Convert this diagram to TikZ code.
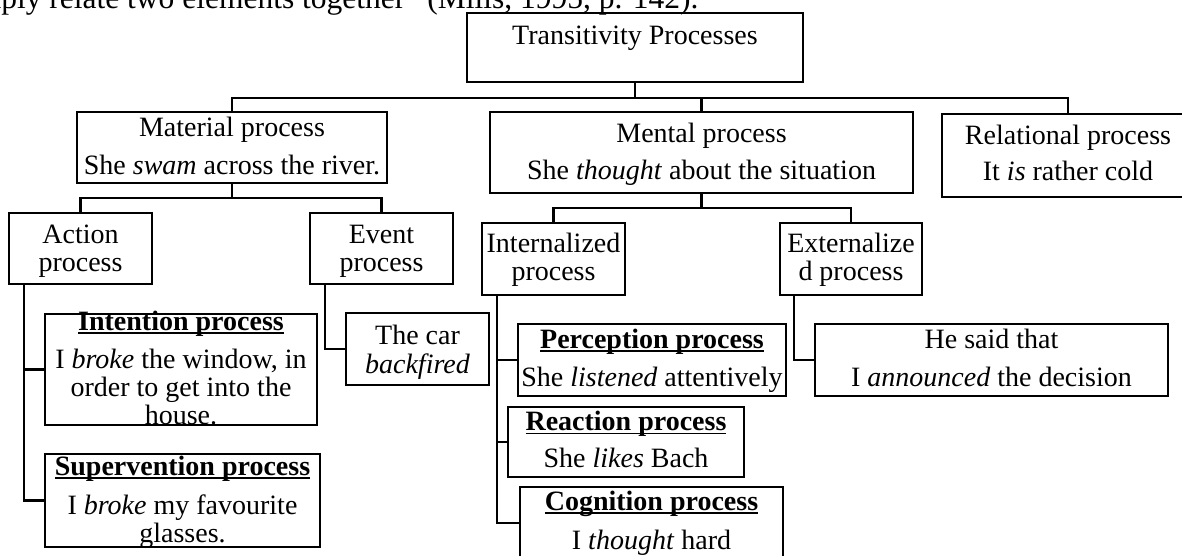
\documentclass[tikz,border=0pt]{standalone}
\usepackage{fontspec}
\setmainfont{Liberation Serif}

% box content: width, height, top pad, text
\newcommand{\boxtext}[4]{\parbox[c][#2][t]{#1}{\centering\vspace*{#3}\strut #4}}
\newcommand{\heading}[1]{\setbox0\hbox{\textbf{#1}}\rlap{\rule[-3.5pt]{\wd0}{1.4pt}}\box0}

\begin{document}
\begin{tikzpicture}[x=1pt, y=-1pt]
    \tikzstyle{procbox} = [rectangle, draw=black, line width=2.8pt, inner sep=0pt, outer sep=0pt, anchor=north west, font=\fontsize{28}{28}\selectfont]
    \tikzstyle{link} = [line width=2.8pt]

    \useasboundingbox (0,0) rectangle (1182,556);

    \node [anchor=base east, font=\fontsize{31.5}{34}\selectfont] (quote) at (702,8.5) {simply relate two elements together” (Mills, 1995, p. 142).};

    \node [procbox] (root) at (467,13) {\boxtext{336pt}{69pt}{12.4pt}{Transitivity Processes}};
    \node [procbox] (material) at (77,112) {\boxtext{310pt}{71pt}{5.4pt}{Material process\\[10pt] She \textit{swam} across the river.}};
    \node [procbox] (mental) at (490,112) {\boxtext{423pt}{81pt}{11.4pt}{Mental process\\[9pt] She \textit{thought} about the situation}};
    \node [procbox] (relational) at (942,114) {\boxtext{252pt}{83pt}{11.4pt}{Relational process\\[8pt] It \textit{is} rather cold}};

    \node [procbox] (action) at (9,213) {\boxtext{143pt}{71pt}{10.4pt}{Action\\ process}};
    \node [procbox] (event) at (310,213) {\boxtext{143pt}{71pt}{10.4pt}{Event\\ process}};
    \node [procbox] (intention) at (45,314) {\boxtext{272pt}{111pt}{-3.6pt}{\heading{Intention process}\\[10pt] I \textit{broke} the window, in\\ order to get into the\\ house.}};
    \node [procbox] (supervention) at (45,454) {\boxtext{275pt}{93pt}{1.4pt}{\heading{Supervention process}\\[10pt] I \textit{broke} my favourite\\ glasses.}};
    \node [procbox] (car) at (346,313) {\boxtext{143pt}{72pt}{11.4pt}{The car\\ \textit{backfired}}};

    \node [procbox] (internal) at (482,223) {\boxtext{143pt}{72pt}{10pt}{Internalized\\ process}};
    \node [procbox] (external) at (780,223) {\boxtext{142pt}{72pt}{10pt}{Externalize\\ d process}};
    \node [procbox] (perception) at (518,324) {\boxtext{268pt}{72pt}{4.4pt}{\heading{Perception process}\\[10pt] She \textit{listened} attentively}};
    \node [procbox] (reaction) at (508,407) {\boxtext{236pt}{70pt}{4pt}{\heading{Reaction process}\\[9pt] She \textit{likes} Bach}};
    \node [procbox] (cognition) at (520,487) {\boxtext{263pt}{72pt}{3.4pt}{\heading{Cognition process}\\[11pt] I \textit{thought} hard}};
    \node [procbox] (announce) at (815,324) {\boxtext{353pt}{72pt}{4.4pt}{He said that\\[10pt] I \textit{announced} the decision}};

    % tree links
    \draw [link] (root.south) -- ++(0,16) coordinate (rootbus) -| (material.north);
    \draw [link] (rootbus) -| (mental.north);
    \draw [link] (rootbus) -| (relational.north);
    \draw [link] (material.south) -- ++(0,15) coordinate (matbus) -| (action.north);
    \draw [link] (matbus) -| (event.north);
    \draw [link] (mental.south) -- ++(0,15) coordinate (menbus) -| (internal.north);
    \draw [link] (menbus) -| (external.north);

    % side links to the examples
    \foreach \leaf in {intention,supervention}
        \draw [link] ([xshift=15pt]action.south west) |- (\leaf.west);
    \draw [link] ([xshift=15pt]event.south west) |- (car.west);
    \foreach \leaf in {perception,reaction,cognition}
        \draw [link] ([xshift=15pt]internal.south west) |- (\leaf.west);
    \draw [link] ([xshift=14pt]external.south west) |- (announce.west);
\end{tikzpicture}
\end{document}
